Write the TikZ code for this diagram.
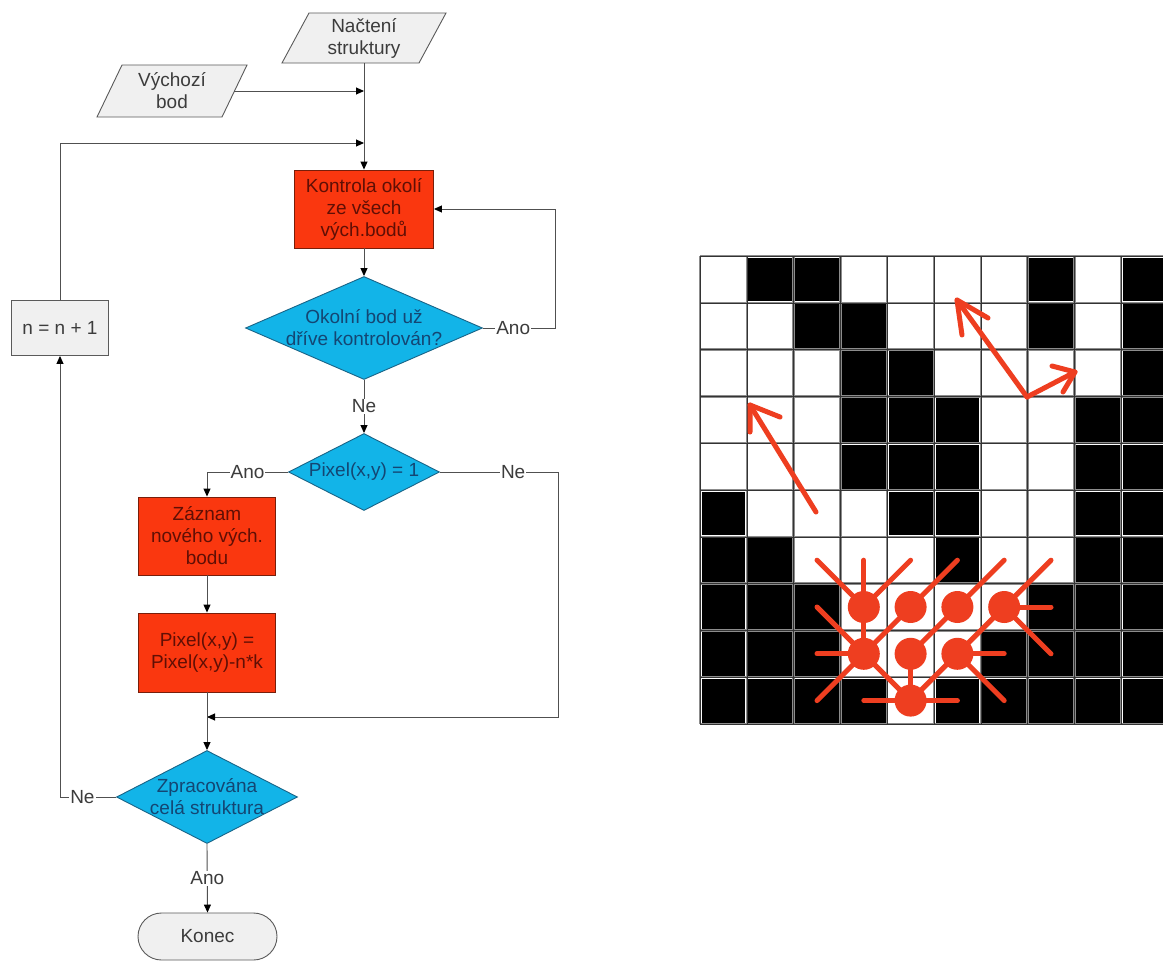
\documentclass[tikz,border=0pt]{standalone}
\usepackage{fontspec}
\setmainfont{Liberation Sans}
\usetikzlibrary{arrows.meta,shapes.geometric,calc}
\definecolor{redfill}{RGB}{250,55,15}
\definecolor{redline}{RGB}{120,30,10}
\definecolor{redtext}{RGB}{95,15,5}
\definecolor{bluefill}{RGB}{18,180,232}
\definecolor{blueline}{RGB}{25,100,135}
\definecolor{bluetext}{RGB}{20,70,115}
\definecolor{grayfill}{RGB}{240,240,240}
\definecolor{grayline}{RGB}{90,90,90}
\definecolor{graytext}{RGB}{60,60,60}
\definecolor{linec}{RGB}{80,80,80}
\definecolor{labeltext}{RGB}{60,60,60}
\definecolor{rd}{RGB}{238,62,32}
\definecolor{gridgray}{RGB}{140,140,140}
\begin{document}
\begin{tikzpicture}[x=1pt,y=-1pt,
  every node/.style={font=\fontsize{19}{22}\selectfont},
  conn/.style={draw=linec, line width=0.9pt},
  arr/.style={conn, -{Triangle[length=8pt,width=7pt,color=black]}},
  procbox/.style={rectangle, draw=redline, fill=redfill, line width=0.9pt, text=redtext, align=center, inner sep=0pt},
  graybox/.style={rectangle, draw=grayline, fill=grayfill, line width=0.9pt, text=graytext, align=center, inner sep=0pt},
  iobox/.style={draw=grayline, fill=grayfill, line width=0.9pt},
  iotext/.style={text=graytext, align=center, inner sep=0pt},
  decis/.style={diamond, draw=blueline, fill=bluefill, line width=0.9pt, inner sep=0pt},
  dtext/.style={text=bluetext, align=center, inner sep=0pt},
  lbl/.style={fill=white, inner sep=1pt, text=labeltext},
  redpen/.style={draw=rd, line width=5pt, line cap=round, line join=round},
  gridl/.style={draw=gridgray, line width=2.4pt},
  gridc/.style={draw=black!80, line width=0.5pt}
]
\useasboundingbox (0,0) rectangle (1163,964);
\fill[white] (0,0) rectangle (1163,964);

% ---------- flowchart ----------
\draw[iobox] (282,63) -- (419,63) -- (446,13) -- (309,13) -- cycle;
\node[iotext, minimum width=137, minimum height=50] (nacteni) at (364,38) {Načtení\\struktury};
\draw[iobox] (97,117) -- (222,117) -- (247,65) -- (122,65) -- cycle;
\node[iotext, minimum width=124, minimum height=52] (vych) at (172,91) {Výchozí\\bod};

\node[procbox, minimum width=139, minimum height=78] (kontrola) at (364,209) {Kontrola okolí\\ze všech\\vých.bodů};
\node[graybox, minimum width=97, minimum height=55] (nbox) at (60,328) {n = n + 1};

\node[decis, minimum width=237, minimum height=103] (d1) at (364,328) {};
\node[dtext] at (364,328) {Okolní bod už\\dříve kontrolován?};

\node[decis, minimum width=151, minimum height=77] (d2) at (364,472) {};
\node[dtext] at (364,472) {Pixel(x,y) = 1};

\node[procbox, minimum width=137, minimum height=78] (zaznam) at (207,536) {Záznam\\nového vých.\\bodu};
\node[procbox, minimum width=137, minimum height=79] (pixel) at (207,652.5) {Pixel(x,y) =\\Pixel(x,y)-n*k};

\node[decis, minimum width=181, minimum height=93] (d3) at (207,797) {};
\node[dtext] at (207,797) {Zpracována\\celá struktura};

\node[graybox, minimum width=139, minimum height=47, rounded corners=23.5pt] (konec) at (207.5,936.5) {Konec};

\coordinate (jv) at (364,91);
\coordinate (jl) at (364,143);
\coordinate (r1) at (555,328);
\coordinate (r2) at (558,472);
\coordinate (r3) at (558,717);
\coordinate (j3) at (207,717);

\draw[arr] (nacteni.south) -- (kontrola.north);
\draw[arr] (vych.east) -- (jv);
\draw[arr] (nbox.north) |- (jl);
\draw[arr] (kontrola.south) -- (d1.north);
\draw[arr] (d1.east) -- node[lbl,pos=0.42]{Ano} (r1) |- (kontrola.east);
\draw[arr] (d1.south) -- node[lbl]{Ne} (d2.north);
\draw[arr] (d2.west) -| node[lbl,pos=0.25]{Ano} (zaznam.north);
\draw[arr] (d2.east) -- node[lbl,pos=0.62]{Ne} (r2) -- (r3) -- (j3);
\draw[arr] (zaznam.south) -- (pixel.north);
\draw[arr] (pixel.south) -- (d3.north);
\draw[arr] (d3.west) -| node[lbl,pos=0.3]{Ne} (nbox.south);
\draw[arr] (d3.south) -- node[lbl]{Ano} (konec.north);

% ---------- pixel grid ----------
\begin{scope}
\clip (690,240) rectangle (1163,740);
\foreach \r/\cols in {0/{1,2,7,9},1/{2,3,7,9},2/{3,4,9},3/{3,4,5,8,9},4/{3,4,5,8,9},
  5/{0,4,5,8,9},6/{0,1,5,8,9},7/{0,1,2,7,8,9},8/{0,1,2,6,7,8,9},9/{0,1,2,3,5,6,7,8,9}}{
  \foreach \c in \cols {
    \fill[black] (700+\c*46.8+1.5, 256+\r*46.8+1.5) rectangle ++(43.8,43.8);
  }
}
\foreach \i in {0,...,10}{
  \draw[gridl] (700+\i*46.8,256) -- (700+\i*46.8,724);
  \draw[gridl] (700,256+\i*46.8) -- (1170,256+\i*46.8);
}
\foreach \i in {0,...,10}{
  \draw[gridc] (700+\i*46.8,256) -- (700+\i*46.8,724);
  \draw[gridc] (700,256+\i*46.8) -- (1170,256+\i*46.8);
}

% red hand-drawn arrows
\draw[redpen] (816,512) -- (750,405);
\draw[redpen] (780,417) -- (750,405) -- (750,432);
\draw[redpen] (1027,397) -- (957,300);
\draw[redpen] (988,318) -- (957,300) -- (962,335);
\draw[redpen] (1027,397) -- (1075,372);
\draw[redpen] (1052,366) -- (1075,372) -- (1063,392);

% propagation dots
\begin{scope}[shift={(700,256)}, x=46.8pt, y=-46.8pt]
\foreach \a/\b/\c/\d in {3/7/2/6, 3/7/3/6, 3/7/4/6, 3/7/3/8, 4/7/5/6, 4/7/3/8,
  5/7/6/6, 5/7/4/8, 6/7/7/6, 6/7/7/7, 6/7/7/8, 6/7/5/8,
  3/8/2/7, 3/8/2/8, 3/8/2/9, 3/8/4/9, 4/8/4/9, 5/8/6/8, 5/8/6/9, 5/8/4/9,
  4/9/3/9, 4/9/5/9}{
  \draw[redpen] (\a+0.5,\b+0.5) -- (\c+0.5,\d+0.5);
}
\foreach \a/\b in {3/7,4/7,5/7,6/7,3/8,4/8,5/8,4/9}{
  \fill[rd] (\a+0.5,\b+0.5) circle[radius=16pt];
}
\end{scope}
\end{scope}
\end{tikzpicture}
\end{document}
